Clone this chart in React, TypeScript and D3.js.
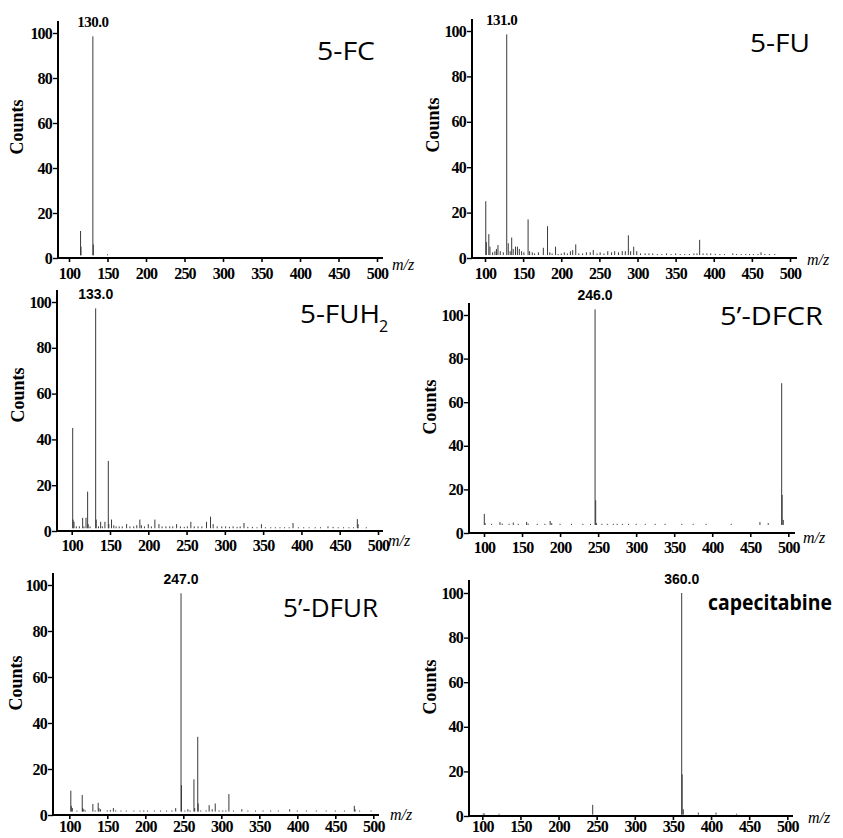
import React, { useEffect, useRef } from 'react';
import * as d3 from 'd3';

// peaks as [m/z, relative counts]
const fcPeaks = [[115, 12], [115.6, 5], [131, 98.5], [131.6, 6], [150, 1.5]];

const fuPeaks = [
  [101, 25], [101.8, 7], [105, 10.5], [106.5, 5], [110, 2.5], [113, 3], [115, 4], [117, 5.7], [120, 3], [124, 2.5],
  [128.5, 98.5], [130.5, 6.5], [133, 3], [135, 9], [137, 4], [140, 5], [142.5, 5], [145, 4], [148, 3], [151, 2.5],
  [156.5, 17], [158.5, 3], [162, 2.5], [165, 2], [170, 2.5], [176.5, 4.5], [182, 14], [185, 2.5], [188, 2], [192.5, 5],
  [196, 1.5], [200, 2], [204, 2.5], [208, 2], [212, 3], [215, 3.5], [219, 6], [223, 2], [228, 2], [233, 2.5],
  [238, 2.5], [242, 3.5], [247, 2], [251, 2.5], [256, 2], [261, 3], [266, 2.5], [270, 3], [275, 2.5], [280, 3],
  [284, 3], [288, 10], [291, 3], [295, 5], [299, 3], [304, 2], [310, 2], [315, 2], [320, 2], [326, 1.5],
  [332, 1.5], [338, 2], [344, 1.5], [350, 2], [356, 1.5], [362, 1.5], [368, 1.5], [374, 2], [378, 2], [381.5, 8],
  [386, 2], [391, 2], [396, 2], [402, 1.8], [408, 1.5], [414, 1.5], [425, 2], [430, 1.5], [436, 1.5], [442, 1.5],
  [447, 1.5], [452, 1.5], [458, 1.5], [462, 2.5], [467, 1.5], [473, 1.5], [480, 1.2]
];

const fuh2Peaks = [
  [101.3, 45], [101.8, 5], [103, 4], [106, 2], [110, 2], [114.3, 5.7], [116, 2], [118.7, 5.8], [120.8, 17.2], [121.5, 3],
  [124, 2], [131.3, 97.2], [132, 5], [135, 2], [137.8, 4], [140, 2], [143.4, 4], [147.8, 30.6], [148.5, 3], [152, 5],
  [155, 2.5], [158, 2], [162, 2], [166, 2], [171.7, 3], [176, 2], [181, 2], [185, 2.5], [189, 5], [191, 2.5],
  [195, 2], [200, 3], [204, 2], [208.6, 5], [213.9, 3], [218, 2], [223, 2], [228, 2], [232, 2], [237, 3],
  [242, 2], [247, 1.8], [251, 2], [255.6, 4], [260, 2], [265, 2], [270, 2], [276, 4], [281.3, 6.3], [284.7, 3],
  [290, 2], [296, 2], [301, 2], [306, 1.8], [310.8, 2], [316, 1.8], [320, 2], [325, 3.5], [330, 1.8], [336, 1.8],
  [342, 1.5], [347.8, 3], [353, 1.5], [360, 1.5], [366, 1.5], [372, 1.5], [378, 1.5], [384, 1.5], [389, 3.5], [396, 1.5],
  [403, 1.5], [410, 1.5], [418, 1.5], [425, 1.5], [434.7, 2], [441.3, 1.8], [448, 1.3], [455, 1.3], [462, 1.3], [468, 1.5],
  [473, 5.2], [474, 3], [484.7, 1]
];

const dfcrPeaks = [
  [100.4, 8.8], [101.5, 4.5], [110, 4.2], [121, 5], [124, 4.3], [133, 4.2], [138.5, 4.8], [145, 4.2], [156, 5], [158, 4.3],
  [170, 4.2], [180, 4.2], [187, 5.5], [189, 4.5], [200, 4.2], [215, 4.2], [230, 4.2], [240, 4.2], [246, 102.6], [246.8, 15],
  [248, 4.5], [255, 4.2], [262, 4.2], [270, 4.2], [275, 4.2], [282, 4.2], [290, 4.2], [300, 4.2], [312, 4.2], [325, 4.2],
  [338, 4.2], [360, 4.2], [375, 4.2], [392, 4.2], [425, 4.2], [462.7, 5], [473.6, 4.5], [491.3, 68.7], [491.9, 17.5], [493.4, 6]
];

const dfurPeaks = [
  [102, 10.6], [102.6, 4], [104, 3], [110, 1.8], [117, 8.7], [117.6, 3], [119, 2.5], [121, 2], [131, 4.8], [134, 2],
  [138, 5.3], [139, 3], [141, 2.5], [150, 2], [154, 2.2], [158, 3], [161, 2], [168, 1.8], [175, 1.8], [185, 1.8],
  [193, 1.8], [198, 2], [203, 1.8], [212, 1.8], [220, 1.8], [228, 1.8], [235, 2], [240, 3], [247, 96.4], [247.6, 13],
  [252, 1.8], [256, 2.5], [259, 2], [264, 15.5], [265, 3], [269, 34], [269.6, 5], [273, 2], [280, 2], [284, 4.3],
  [288, 2.5], [292, 5], [297, 2], [302, 2], [306, 2], [310, 9.1], [316, 1.8], [327, 2.5], [335, 1.8], [345, 1.8],
  [355, 1.8], [365, 1.8], [375, 1.8], [390, 2.5], [400, 1.8], [412, 1.8], [425, 1.8], [438, 1.8], [450, 1.8], [462, 1.8],
  [475, 4], [476, 2.5], [482, 1.8], [497, 1.8]
];

const capePeaks = [
  [101.3, 1.2], [103, 0.9], [122, 0.9], [244.8, 5], [361.5, 100], [362.1, 18.7], [363.6, 3], [383.3, 1.5], [406.5, 1.5], [433.6, 0.8]
];

const spectra = [fcPeaks, fuPeaks, fuh2Peaks, dfcrPeaks, dfurPeaks, capePeaks];
const compounds = ['5-FC', '5-FU', '5-FUH', '5’-DFCR', '5’-DFUR', 'capecitabine'];
const peakLabels = ['130.0', '131.0', '133.0', '246.0', '247.0', '360.0'];
const baselines = [1.2, 1.3, 1.2, 3.7, 1.5, 0.6];
const xTicks = [100, 150, 200, 250, 300, 350, 400, 450, 500];
const yTicks = [0, 20, 40, 60, 80, 100];

// panel placement on the page
const layout = [
  { left: 58, x100: 69, x500: 377, right: 383, y0: 258, y100: 33, top: 21, pad: 6, cx: 17, cy: 127, mx: 392, my: 270, nx: 317, ny: 60, nw: 58, dx: 0, serif: true },
  { left: 472, x100: 485, x500: 790, right: 797, y0: 258, y100: 31, top: 19, pad: 6, cx: 433, cy: 125, mx: 807, my: 265, nx: 750, ny: 52, nw: 60, dx: -5, serif: true },
  { left: 57, x100: 71.7, x500: 378, right: 383, y0: 531, y100: 302, top: 290, pad: 5, cx: 18, cy: 395, mx: 388, my: 546, nx: 300, ny: 323, nw: 80, dx: 0, serif: false },
  { left: 469, x100: 484, x500: 788.3, right: 795, y0: 533, y100: 315, top: 303, pad: 5, cx: 430, cy: 407, mx: 803, my: 543, nx: 720, ny: 325, nw: 103, dx: 0, serif: false },
  { left: 53, x100: 69.3, x500: 373.3, right: 379, y0: 815, y100: 585, top: 573, pad: 2, cx: 16, cy: 683, mx: 390, my: 820, nx: 283, ny: 617, nw: 95, dx: 0, serif: false },
  { left: 469, x100: 482.3, x500: 787.3, right: 793, y0: 816, y100: 593, top: 580, pad: 1, cx: 430, cy: 687, mx: 808, my: 823, nx: 708, ny: 610, nw: 124, dx: 0, serif: false },
];

const SERIF = '"Liberation Serif", "Times New Roman", serif';
const SANS = '"Open Sans", "Liberation Sans", sans-serif';

export default function App() {
  const ref = useRef<SVGSVGElement>(null);

  useEffect(() => {
    const svg = d3.select(ref.current);
    svg.selectAll('*').remove();

    spectra.forEach((peaks, i) => {
      const L = layout[i];
      const base = baselines[i];
      const x = d3.scaleLinear().domain([100, 500]).range([L.x100, L.x500]);
      const y = d3.scaleLinear().domain([0, 100]).range([L.y0, L.y100]);
      const g = svg.append('g');

      // stems
      g.selectAll('line.stem')
        .data(peaks)
        .enter()
        .append('line')
        .attr('class', 'stem')
        .attr('x1', d => x(d[0]))
        .attr('x2', d => x(d[0]))
        .attr('y1', y(base))
        .attr('y2', d => Math.min(y(d[1]), y(base) - 1))
        .attr('stroke', '#3a3a3a')
        .attr('stroke-width', 1);

      // x axis
      const xa = g.append('g')
        .attr('transform', `translate(0,${L.y0})`)
        .call(d3.axisBottom(x).tickValues(xTicks).tickSize(4).tickSizeOuter(0).tickPadding(L.pad));
      xa.select('.domain').remove();
      xa.selectAll('line').attr('stroke', '#000').attr('stroke-width', 1.6);
      xa.selectAll('text')
        .attr('fill', '#000')
        .style('font-family', SERIF)
        .style('font-weight', 'bold')
        .style('font-size', '16px')
        .style('letter-spacing', '-0.8px');

      // y axis
      const ya = g.append('g')
        .attr('transform', `translate(${L.left},0)`)
        .call(d3.axisLeft(y).tickValues(yTicks).tickSize(5).tickSizeOuter(0).tickPadding(1));
      ya.select('.domain').remove();
      ya.selectAll('line').attr('stroke', '#000').attr('stroke-width', 1.4);
      ya.selectAll('text')
        .attr('fill', '#000')
        .style('font-family', SERIF)
        .style('font-weight', 'bold')
        .style('font-size', '16px')
        .style('letter-spacing', '-0.8px');

      // axis lines
      g.append('line')
        .attr('x1', L.left).attr('x2', L.right)
        .attr('y1', L.y0).attr('y2', L.y0)
        .attr('stroke', '#000').attr('stroke-width', 2);
      g.append('line')
        .attr('x1', L.left).attr('x2', L.left)
        .attr('y1', L.y0 + 1).attr('y2', L.top)
        .attr('stroke', '#000').attr('stroke-width', 2);

      // axis titles
      g.append('text')
        .attr('transform', `translate(${L.cx},${L.cy}) rotate(-90)`)
        .attr('text-anchor', 'middle')
        .attr('dominant-baseline', 'central')
        .style('font-family', SERIF)
        .style('font-weight', 'bold')
        .style('font-size', '18px')
        .text('Counts');
      g.append('text')
        .attr('x', L.mx).attr('y', L.my)
        .style('font-family', SERIF)
        .style('font-style', 'italic')
        .style('font-size', '16px')
        .text('m/z');

      // base peak annotation
      const top = peaks.reduce((a, b) => (b[1] > a[1] ? b : a));
      g.append('text')
        .attr('x', x(top[0]) + L.dx)
        .attr('y', y(top[1]) - 9)
        .attr('text-anchor', 'middle')
        .style('font-family', L.serif ? SERIF : '"Liberation Sans", Arial, sans-serif')
        .style('font-weight', 'bold')
        .style('font-size', L.serif ? '15px' : '14px')
        .style('letter-spacing', L.serif ? '-0.5px' : '0px')
        .text(peakLabels[i]);

      // compound name
      const isCape = compounds[i] === 'capecitabine';
      g.append('text')
        .attr('x', L.nx).attr('y', L.ny)
        .attr('textLength', L.nw)
        .attr('lengthAdjust', 'spacingAndGlyphs')
        .style('font-family', SANS)
        .style('font-weight', isCape ? 'bold' : 'normal')
        .style('font-size', isCape ? '21px' : '25px')
        .text(compounds[i]);
      if (compounds[i] === '5-FUH') {
        g.append('text')
          .attr('x', L.nx + L.nw - 1).attr('y', L.ny + 9)
          .style('font-family', SANS)
          .style('font-size', '16px')
          .text('2');
      }
    });
  }, []);

  return (
    <svg
      ref={ref}
      width={843}
      height={838}
      style={{ position: 'absolute', left: 0, top: 0, background: '#fff' }}
    />
  );
}
